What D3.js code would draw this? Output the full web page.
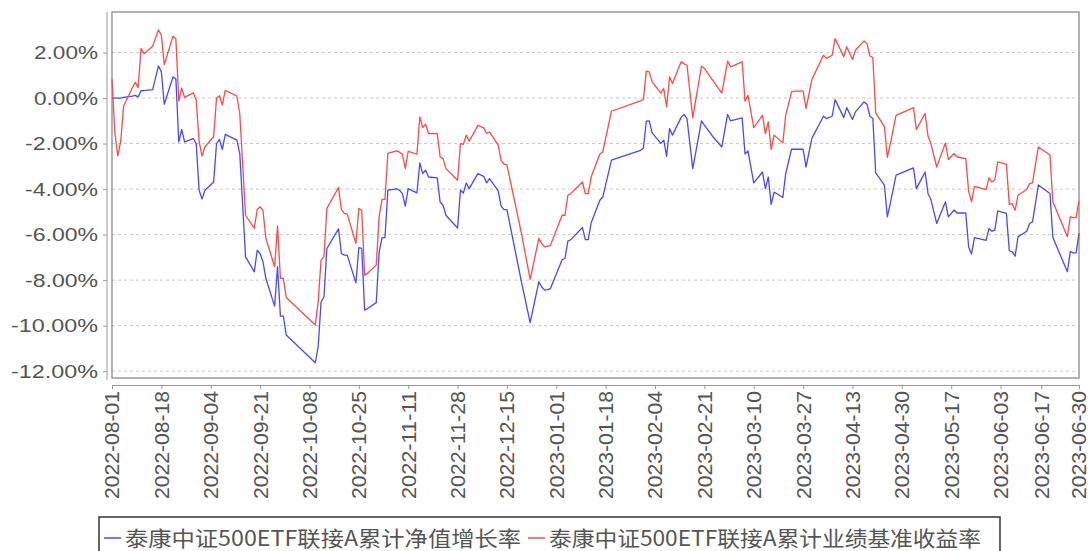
<!DOCTYPE html>
<html>
<head>
<meta charset="utf-8">
<script src="https://cdn.jsdelivr.net/npm/d3@7"></script>
<style>
  body { margin: 0; background: #fff; }
  .axis text { fill: #555; font-family: "Liberation Sans", Arial, sans-serif; }
  .axis path, .axis line { stroke: #999; }
</style>
</head>
<body>
<div id="chart"></div>
<script>
// trading days (vertices of the two lines)
var dates = [
  "2022-08-01","2022-08-02","2022-08-03","2022-08-04","2022-08-05","2022-08-08","2022-08-09","2022-08-10","2022-08-11","2022-08-12",
  "2022-08-15","2022-08-17","2022-08-18","2022-08-19","2022-08-22","2022-08-23","2022-08-24","2022-08-25","2022-08-26","2022-08-29",
  "2022-08-30","2022-08-31","2022-09-01","2022-09-02","2022-09-05","2022-09-06","2022-09-07","2022-09-08","2022-09-09","2022-09-13",
  "2022-09-14","2022-09-16","2022-09-19","2022-09-20","2022-09-21","2022-09-22","2022-09-23","2022-09-26","2022-09-27","2022-09-28",
  "2022-09-29","2022-09-30","2022-10-10","2022-10-11","2022-10-12","2022-10-13","2022-10-14","2022-10-18","2022-10-19","2022-10-20",
  "2022-10-21","2022-10-24","2022-10-25","2022-10-26","2022-10-27","2022-10-28","2022-10-31","2022-11-01","2022-11-02","2022-11-03",
  "2022-11-04","2022-11-07","2022-11-08","2022-11-09","2022-11-10","2022-11-11","2022-11-14","2022-11-15","2022-11-16","2022-11-17",
  "2022-11-18","2022-11-21","2022-11-22","2022-11-23","2022-11-24","2022-11-28","2022-11-29","2022-11-30","2022-12-01","2022-12-02",
  "2022-12-05","2022-12-07","2022-12-08","2022-12-09","2022-12-12","2022-12-13","2022-12-14","2022-12-15","2022-12-20","2022-12-23",
  "2022-12-26","2022-12-27","2022-12-28","2022-12-29","2022-12-30","2023-01-03","2023-01-04","2023-01-05","2023-01-06","2023-01-10",
  "2023-01-11","2023-01-12","2023-01-13","2023-01-16","2023-01-17","2023-01-20","2023-01-30","2023-01-31","2023-02-01","2023-02-02",
  "2023-02-03","2023-02-06","2023-02-07","2023-02-08","2023-02-09","2023-02-10","2023-02-13","2023-02-14","2023-02-15","2023-02-17",
  "2023-02-20","2023-02-21","2023-02-24","2023-02-27","2023-03-01","2023-03-02","2023-03-06","2023-03-07","2023-03-08","2023-03-10",
  "2023-03-13","2023-03-14","2023-03-15","2023-03-16","2023-03-17","2023-03-20","2023-03-21","2023-03-23","2023-03-24","2023-03-27",
  "2023-03-28","2023-03-30","2023-04-03","2023-04-04","2023-04-06","2023-04-07","2023-04-10","2023-04-11","2023-04-13","2023-04-14",
  "2023-04-17","2023-04-18","2023-04-19","2023-04-20","2023-04-21","2023-04-24","2023-04-25","2023-04-26","2023-04-28","2023-05-04",
  "2023-05-05","2023-05-08","2023-05-09","2023-05-10","2023-05-12","2023-05-15","2023-05-16","2023-05-18","2023-05-19","2023-05-22",
  "2023-05-23","2023-05-24","2023-05-25","2023-05-29","2023-05-30","2023-05-31","2023-06-01","2023-06-02","2023-06-05","2023-06-06",
  "2023-06-07","2023-06-08","2023-06-09","2023-06-12","2023-06-13","2023-06-14","2023-06-16","2023-06-20","2023-06-21","2023-06-26",
  "2023-06-27","2023-06-28","2023-06-29","2023-06-30"
];

// 累计净值增长率 (%)
var navGrowth = [
  0.00,0.00,0.00,0.00,0.03,0.08,0.12,0.05,0.32,0.33,
  0.37,1.41,1.15,-0.27,0.93,0.84,-1.93,-1.38,-1.93,-1.78,
  -2.00,-4.05,-4.44,-4.05,-3.69,-2.00,-1.82,-2.26,-1.60,-1.85,
  -2.44,-6.98,-7.64,-6.69,-6.83,-7.20,-7.93,-9.14,-7.41,-9.58,
  -9.58,-10.41,-11.63,-10.93,-8.96,-8.73,-6.61,-5.75,-6.83,-6.90,
  -6.90,-8.12,-6.57,-6.60,-9.32,-9.25,-8.99,-6.76,-6.13,-6.13,
  -4.05,-3.99,-4.05,-4.20,-4.75,-3.98,-4.17,-2.85,-3.32,-3.17,
  -3.47,-3.51,-4.57,-4.71,-5.15,-5.71,-4.05,-4.17,-3.73,-3.98,
  -3.32,-3.44,-3.73,-3.54,-4.08,-4.75,-4.90,-4.90,-8.08,-9.87,
  -8.07,-8.30,-8.44,-8.42,-8.37,-7.10,-7.05,-6.28,-6.22,-5.69,
  -6.22,-6.22,-5.49,-4.49,-4.35,-2.73,-2.30,-2.19,-1.02,-1.00,
  -1.53,-1.99,-1.85,-2.56,-1.34,-1.63,-0.85,-0.72,-0.90,-3.10,
  -1.00,-1.19,-1.71,-2.15,-0.72,-1.00,-0.87,-2.46,-2.32,-3.73,
  -3.25,-3.98,-3.47,-4.67,-4.13,-4.37,-3.32,-2.25,-2.25,-2.25,
  -3.03,-1.77,-0.80,-0.90,-0.80,-0.07,-0.86,-0.42,-0.94,-0.61,
  -0.17,-0.27,-0.80,-0.90,-3.29,-3.83,-5.22,-4.64,-3.39,-3.07,
  -3.98,-3.25,-4.19,-4.46,-5.51,-4.56,-5.22,-4.92,-5.05,-5.05,
  -6.54,-6.85,-6.13,-6.25,-5.73,-5.85,-5.81,-4.96,-5.07,-6.71,
  -6.76,-6.95,-6.10,-5.85,-5.51,-5.44,-3.82,-4.19,-6.13,-7.63,
  -6.75,-6.80,-6.80,-5.94
];

// 累计业绩基准收益率 (%)
var benchmark = [
  0.83,-1.55,-2.54,-1.90,-0.36,0.45,0.69,0.46,2.17,1.95,
  2.28,2.99,2.76,1.47,2.72,2.59,-0.13,0.44,0.03,0.23,
  -0.10,-1.90,-2.55,-2.14,-1.70,-0.01,0.10,-0.31,0.34,0.09,
  -0.68,-5.15,-5.73,-4.90,-4.78,-4.95,-6.17,-7.41,-5.62,-7.92,
  -7.92,-8.76,-9.97,-8.95,-7.12,-6.97,-4.85,-3.93,-4.90,-5.07,
  -5.10,-6.39,-4.85,-4.93,-7.78,-7.70,-7.34,-5.20,-4.45,-4.45,
  -2.43,-2.32,-2.38,-2.47,-3.10,-2.34,-2.47,-0.83,-1.30,-1.15,
  -1.56,-1.56,-2.59,-2.66,-3.10,-3.61,-2.00,-2.03,-1.63,-1.90,
  -1.20,-1.31,-1.56,-1.49,-2.07,-2.75,-2.90,-2.94,-5.95,-7.97,
  -6.16,-6.40,-6.54,-6.52,-6.47,-5.15,-5.15,-4.27,-4.20,-3.69,
  -4.20,-4.20,-3.47,-2.46,-2.37,-0.58,-0.12,-0.07,1.18,1.15,
  0.71,0.22,0.42,-0.39,0.93,0.64,1.59,1.50,1.44,-0.86,
  1.40,1.30,0.75,0.22,1.62,1.37,1.59,-0.14,0.12,-1.30,
  -0.76,-1.56,-1.05,-2.26,-1.63,-1.97,-0.76,0.27,0.30,0.30,
  -0.46,0.81,1.88,1.74,1.88,2.61,1.81,2.25,1.69,2.10,
  2.51,2.39,1.84,1.78,-0.65,-1.27,-2.61,-2.03,-0.76,-0.42,
  -1.38,-0.68,-1.67,-2.00,-3.03,-1.97,-2.70,-2.44,-2.59,-2.66,
  -4.10,-4.56,-3.88,-4.02,-3.51,-3.69,-3.60,-2.81,-2.91,-4.67,
  -4.64,-4.93,-4.27,-4.02,-3.76,-3.73,-2.15,-2.50,-4.56,-6.09,
  -5.22,-5.25,-5.25,-4.52
];

var yTicks = [2, 0, -2, -4, -6, -8, -10, -12];
var xTickLabels = ["2022-08-01","2022-08-18","2022-09-04","2022-09-21","2022-10-08","2022-10-25","2022-11-11",
  "2022-11-28","2022-12-15","2023-01-01","2023-01-18","2023-02-04","2023-02-21","2023-03-10","2023-03-27",
  "2023-04-13","2023-04-30","2023-05-17","2023-06-03","2023-06-17","2023-06-30"];
var seriesNames = ["泰康中证500ETF联接A累计净值增长率", "泰康中证500ETF联接A累计业绩基准收益率"];
var seriesColors = ["#4848ff", "#ff4848"];

var W = 1089, H = 551;
var plot = { left: 112, right: 1079, top: 12, bottom: 378 };
var parseDate = d3.timeParse("%Y-%m-%d");

var svg = d3.select("#chart").append("svg")
    .attr("width", W)
    .attr("height", H);

var x = d3.scaleTime()
    .domain([parseDate("2022-08-01"), parseDate("2023-06-30")])
    .range([plot.left, plot.right]);

var y = d3.scaleLinear()
    .domain([-12.3, 3.78])
    .range([plot.bottom, plot.top]);

// dashed grid
svg.append("g").selectAll("line")
    .data(yTicks)
  .enter().append("line")
    .attr("x1", plot.left)
    .attr("x2", plot.right)
    .attr("y1", function(d) { return y(d); })
    .attr("y2", function(d) { return y(d); })
    .attr("stroke", "#c8c8c8")
    .attr("stroke-dasharray", "3,3");

// frame
svg.append("rect")
    .attr("x", plot.left)
    .attr("y", plot.top)
    .attr("width", plot.right - plot.left)
    .attr("height", plot.bottom - plot.top)
    .attr("fill", "none")
    .attr("stroke", "#9a9a9a")
    .attr("stroke-width", 1.5);

// y axis, detached a few px left of the frame
var yAxis = d3.axisLeft(y)
    .tickValues(yTicks)
    .tickSize(4)
    .tickSizeOuter(0)
    .tickPadding(5)
    .tickFormat(function(d) { return d.toFixed(2) + "%"; });

var gY = svg.append("g")
    .attr("class", "axis")
    .attr("transform", "translate(107,0)")
    .call(yAxis);
gY.select(".domain").attr("d", "M0," + plot.top + "V" + (plot.bottom + 2));

// the original labels are drawn wide: digits ~14px, "-" 9, "." 5, "%" 17
function labelWidth(s) {
  var w = 0;
  s.split("").forEach(function(c) {
    if (c == "-") w += 9;
    else if (c == ".") w += 5;
    else if (c == "%") w += 17;
    else w += 14;
  });
  return w;
}
gY.selectAll("text")
    .style("font-size", "19px")
    .attr("textLength", function() { return labelWidth(this.textContent); })
    .attr("lengthAdjust", "spacingAndGlyphs");

// x axis below the frame
var xAxis = d3.axisBottom(x)
    .tickValues(xTickLabels.map(parseDate))
    .tickSize(4)
    .tickSizeOuter(0)
    .tickFormat(d3.timeFormat("%Y-%m-%d"));

var gX = svg.append("g")
    .attr("class", "axis")
    .attr("transform", "translate(0,385)")
    .call(xAxis);

gX.selectAll("text")
    .style("font-size", "21px")
    .style("text-anchor", "end")
    .attr("transform", "rotate(-90)")
    .attr("x", -6)
    .attr("y", 0)
    .attr("dy", "0.33em")
    .attr("textLength", 108)
    .attr("lengthAdjust", "spacingAndGlyphs");

// lines
var line = d3.line()
    .x(function(d) { return x(d.date); })
    .y(function(d) { return y(d.value); });

[navGrowth, benchmark].forEach(function(values, i) {
  var pts = dates.map(function(d, j) { return { date: parseDate(d), value: values[j] }; });
  svg.append("path")
      .datum(pts)
      .attr("fill", "none")
      .attr("stroke", seriesColors[i])
      .attr("stroke-width", 1.3)
      .attr("stroke-linejoin", "round")
      .attr("d", line);
});

// legend box
var legend = svg.append("g");
legend.append("rect")
    .attr("x", 99)
    .attr("y", 517)
    .attr("width", 901)
    .attr("height", 50)
    .attr("fill", "#fff")
    .attr("stroke", "#333")
    .attr("stroke-width", 1.5);

var legendX = [104, 528];
var legendTextW = [396, 432];
seriesNames.forEach(function(name, i) {
  legend.append("line")
      .attr("x1", legendX[i])
      .attr("x2", legendX[i] + 17)
      .attr("y1", 538)
      .attr("y2", 538)
      .attr("stroke", seriesColors[i])
      .attr("stroke-width", 1.5);
  legend.append("text")
      .attr("x", legendX[i] + 21)
      .attr("y", 538)
      .attr("dy", "0.36em")
      .attr("fill", "#555")
      .attr("textLength", legendTextW[i])
      .attr("lengthAdjust", "spacingAndGlyphs")
      .style("font-family", "'Noto Sans CJK SC', sans-serif")
      .style("font-size", "21px")
      .text(name);
});
</script>
</body>
</html>
